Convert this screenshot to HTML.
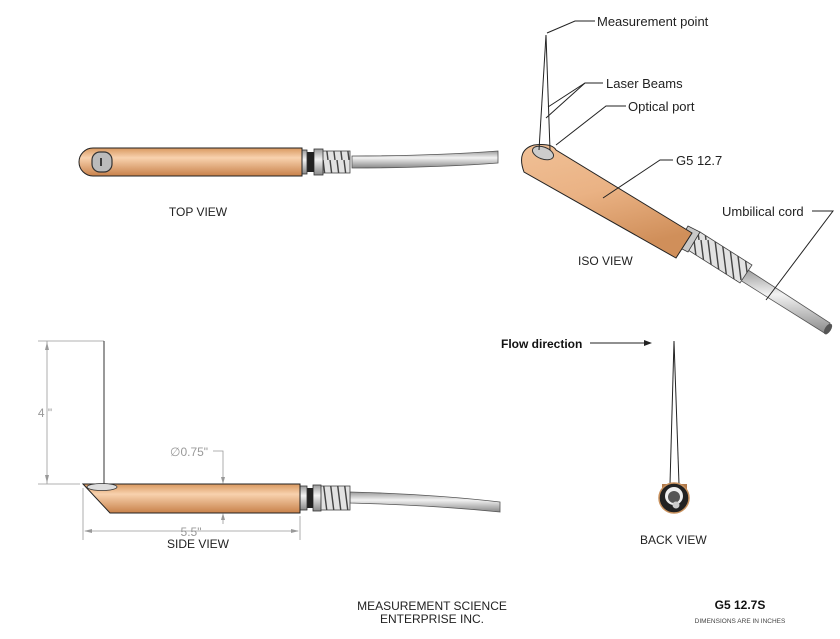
<!DOCTYPE html>
<html><head><style>
html,body{margin:0;padding:0;background:#fff;}
svg{display:block;font-family:"Liberation Sans",sans-serif;}
</style></head><body>
<svg width="840" height="639" viewBox="0 0 840 639" xmlns="http://www.w3.org/2000/svg">
<defs>
<linearGradient id="cu" x1="0" y1="0" x2="0" y2="1">
<stop offset="0" stop-color="#d9985f"/><stop offset="0.35" stop-color="#f8d2ae"/><stop offset="1" stop-color="#c8814a"/>
</linearGradient>
<linearGradient id="cuI" x1="0" y1="0" x2="0.35" y2="1">
<stop offset="0" stop-color="#f0c096"/><stop offset="0.5" stop-color="#eab284"/><stop offset="1" stop-color="#d08f5a"/>
</linearGradient>
<linearGradient id="gr" x1="0" y1="0" x2="0" y2="1">
<stop offset="0" stop-color="#999"/><stop offset="0.4" stop-color="#f2f2f2"/><stop offset="1" stop-color="#888"/>
</linearGradient>
<pattern id="spring" width="7" height="40" patternUnits="userSpaceOnUse">
<rect width="7" height="40" fill="#e2e2e2"/><path d="M1 0 L6 40" stroke="#444" stroke-width="1.4"/>
</pattern>
</defs>

<!-- TOP VIEW -->
<path d="M352 156 Q430 156 498 151 L498 163 Q430 168 352 168 Z" fill="url(#gr)" stroke="#555" stroke-width="0.8"/>
<rect x="322" y="151" width="28" height="22" fill="url(#spring)" stroke="#444" stroke-width="0.8"/>
<rect x="314" y="149" width="9" height="26" fill="url(#gr)" stroke="#333" stroke-width="0.8"/>
<rect x="307" y="152" width="7" height="20" fill="#222"/>
<rect x="301" y="150" width="6" height="24" fill="url(#gr)" stroke="#333" stroke-width="0.8"/>
<path d="M93 148 H302 V176 H93 A14 14 0 0 1 93 148 Z" fill="url(#cu)" stroke="#222" stroke-width="1"/>
<rect x="92" y="152" width="20" height="20" rx="8" fill="#bbb" stroke="#333" stroke-width="1.2"/>
<line x1="101" y1="158" x2="101" y2="166" stroke="#111" stroke-width="1.5"/>
<text x="198" y="216" font-size="12" text-anchor="middle" fill="#222">TOP VIEW</text>

<!-- ISO VIEW -->
<g>
<path d="M745 268 L830 323 L826 334 L740 280 Z" fill="url(#gr)" stroke="#555" stroke-width="0.8"/>
<ellipse cx="828" cy="329" rx="3" ry="6" transform="rotate(33 828 329)" fill="#555"/>
<path d="M700 232 L752 265 L740 283 L688 250 Z" fill="url(#spring)" stroke="#444" stroke-width="0.8"/>
<path d="M688 226 L700 232 L688 252 L676 246 Z" fill="#c8c8c8" stroke="#333" stroke-width="0.8"/>
<path d="M534 145 Q552 143 556 150 L692 233 L676 258 L524 172 Q516 150 534 145 Z" fill="url(#cuI)" stroke="#222" stroke-width="1"/>
<ellipse cx="543" cy="153" rx="11" ry="6" transform="rotate(20 543 153)" fill="#ccc" stroke="#333"/>
</g>
<g stroke="#222" stroke-width="1" fill="none">
<line x1="546" y1="35" x2="539" y2="150"/><line x1="546" y1="35" x2="550" y2="150"/>
<polyline points="595,21 575,21 547,33"/>
<polyline points="603,83 585,83 548,107"/><line x1="585" y1="83" x2="546" y2="118"/>
<polyline points="626,106 606,106 556,145"/>
<polyline points="673,160 660,160 603,198"/>
<polyline points="812,211 833,211 766,300"/>
</g>
<g font-size="13" fill="#222">
<text x="597" y="26">Measurement point</text>
<text x="606" y="88">Laser Beams</text>
<text x="628" y="111">Optical port</text>
<text x="676" y="165">G5 12.7</text>
<text x="722" y="216">Umbilical cord</text>
</g>
<text x="578" y="265" font-size="12" fill="#222">ISO VIEW</text>

<!-- Flow direction -->
<text x="501" y="348" font-size="12" font-weight="bold" fill="#111">Flow direction</text>
<line x1="590" y1="343" x2="645" y2="343" stroke="#222" stroke-width="1"/>
<path d="M652 343 L644 340 L644 346 Z" fill="#222"/>

<!-- BACK VIEW -->
<g stroke="#222" stroke-width="1"><line x1="674" y1="341" x2="670" y2="484"/><line x1="674" y1="341" x2="679" y2="484"/></g>
<rect x="662" y="484" width="25" height="6" fill="#b07a4c"/>
<circle cx="674" cy="498" r="15" fill="#222" stroke="#c9925e" stroke-width="1.5"/>
<circle cx="674" cy="496" r="9" fill="#eee"/>
<circle cx="674" cy="497" r="6" fill="#555"/>
<circle cx="676" cy="505" r="3.5" fill="#ccc"/>
<text x="640" y="544" font-size="12" fill="#222">BACK VIEW</text>

<!-- SIDE VIEW -->
<g stroke="#999" stroke-width="0.8" fill="none">
<line x1="38" y1="341" x2="104" y2="341"/><line x1="38" y1="484" x2="80" y2="484"/>
<line x1="47" y1="341" x2="47" y2="484"/>
<line x1="83" y1="488" x2="83" y2="540"/><line x1="300" y1="516" x2="300" y2="540"/>
<line x1="85" y1="531" x2="298" y2="531"/>
<polyline points="213,451 223,451 223,480"/>
<line x1="223" y1="517" x2="223" y2="524"/>
</g>
<g fill="#999">
<path d="M47 342 L45 350 L49 350 Z"/><path d="M47 483 L45 475 L49 475 Z"/>
<path d="M84 531 L92 529 L92 533 Z"/><path d="M299 531 L291 529 L291 533 Z"/>
<path d="M223 484 L221 477 L225 477 Z"/><path d="M223 513 L221 520 L225 520 Z"/>
</g>
<text x="45" y="417" font-size="12" fill="#999" text-anchor="middle">4 "</text>
<text x="170" y="456" font-size="12" fill="#999">∅0.75"</text>
<text x="191" y="536" font-size="12" fill="#999" text-anchor="middle">5.5"</text>
<line x1="104" y1="341" x2="104" y2="484" stroke="#333" stroke-width="1"/>
<path d="M350 492 Q430 494 500 502 L500 512 Q430 505 350 503 Z" fill="url(#gr)" stroke="#555" stroke-width="0.8"/>
<rect x="320" y="486" width="30" height="24" fill="url(#spring)" stroke="#444" stroke-width="0.8"/>
<rect x="313" y="485" width="8" height="26" fill="url(#gr)" stroke="#333" stroke-width="0.8"/>
<rect x="307" y="488" width="6" height="20" fill="#222"/>
<rect x="300" y="486" width="7" height="24" fill="url(#gr)" stroke="#333" stroke-width="0.8"/>
<path d="M83 484 H300 V513 H110 Z" fill="url(#cu)" stroke="#222" stroke-width="1"/>
<ellipse cx="102" cy="487" rx="15" ry="3.5" fill="#ddd" stroke="#333" stroke-width="0.8"/>
<text x="198" y="548" font-size="12" fill="#222" text-anchor="middle">SIDE VIEW</text>

<!-- Footer -->
<text x="432" y="610" font-size="12" fill="#222" text-anchor="middle">MEASUREMENT SCIENCE</text>
<text x="432" y="623" font-size="12" fill="#222" text-anchor="middle">ENTERPRISE INC.</text>
<text x="740" y="609" font-size="12" font-weight="bold" fill="#111" text-anchor="middle">G5 12.7S</text>
<text x="740" y="623" font-size="6.5" fill="#444" text-anchor="middle">DIMENSIONS ARE IN INCHES</text>
</svg>
</body></html>
